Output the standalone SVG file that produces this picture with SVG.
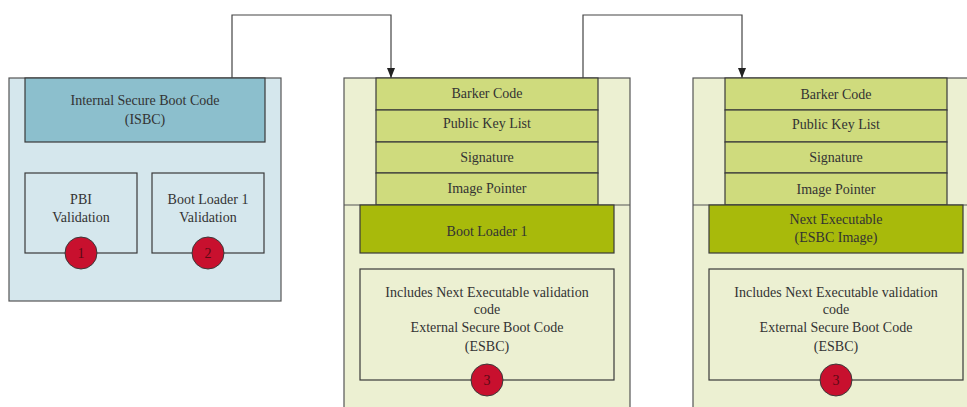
<svg xmlns="http://www.w3.org/2000/svg" width="967" height="407" viewBox="0 0 967 407">
<style>
text{font-family:'Liberation Serif','DejaVu Serif','Noto Serif',serif;font-size:14px;fill:#333;text-anchor:middle}
.box{stroke:#3a3a3a;stroke-width:1.2}
.outerL{fill:#d5e7ed;stroke:#555;stroke-width:1.2}
.outerG{fill:#ecf0d2;stroke:#555;stroke-width:1.2}
.isbc{fill:#8cbfcd}
.row{fill:#cfdb7d}
.bl{fill:#a8ba0b}
.plainL{fill:#d5e7ed}
.plainG{fill:#ecf0d2}
.badge{fill:#c8102e;stroke:#3a3a3a;stroke-width:1}
.num{fill:#5a0a14;font-size:14px}
.conn{fill:none;stroke:#444;stroke-width:1.2}
</style>
<defs>
<marker id="arr" viewBox="0 0 10 10" refX="10" refY="5" markerWidth="10" markerHeight="10" markerUnits="userSpaceOnUse" orient="auto">
<path d="M0,1 L10,5 L0,9 Z" fill="#222"/>
</marker>
</defs>
<rect width="967" height="407" fill="#fff"/>

<g id="isbc-node">
<rect class="outerL" x="9" y="78" width="272" height="223"/>
<rect class="box isbc" x="25" y="78" width="240" height="64"/>
<text x="145" y="105">Internal Secure Boot Code</text>
<text x="145" y="124">(ISBC)</text>
</g>
<g id="pbi-validation">
<rect class="box plainL" x="25" y="173" width="112" height="80"/>
<text x="81" y="204">PBI</text>
<text x="81" y="222">Validation</text>
<circle class="badge" cx="81" cy="253" r="16"/>
<text class="num" x="81" y="258">1</text>
</g>
<g id="bl1-validation">
<rect class="box plainL" x="152" y="173" width="112" height="80"/>
<text x="208" y="204">Boot Loader 1</text>
<text x="208" y="222">Validation</text>
<circle class="badge" cx="208" cy="253" r="16"/>
<text class="num" x="208" y="258">2</text>
</g>

<g id="bootloader-image">
<rect class="outerG" x="344" y="78" width="286" height="340"/>
<rect class="box row" x="376" y="78" width="222" height="32"/>
<text x="487" y="98">Barker Code</text>
<rect class="box row" x="376" y="110" width="222" height="32"/>
<text x="487" y="128">Public Key List</text>
<rect class="box row" x="376" y="142" width="222" height="31"/>
<text x="487" y="162">Signature</text>
<rect class="box row" x="376" y="173" width="222" height="32"/>
<text x="487" y="193">Image Pointer</text>
<line x1="344" y1="205" x2="630" y2="205" stroke="#555" stroke-width="1.2"/>
<rect class="box bl" x="360" y="205" width="254" height="48"/>
<text x="487" y="236">Boot Loader 1</text>
<rect class="box plainG" x="360" y="269" width="254" height="111"/>
<text x="487" y="297">Includes Next Executable validation</text>
<text x="487" y="314">code</text>
<text x="487" y="332">External Secure Boot Code</text>
<text x="487" y="351">(ESBC)</text>
<circle class="badge" cx="487" cy="380" r="16"/>
<text class="num" x="487" y="385">3</text>
</g>

<g id="esbc-image">
<rect class="outerG" x="693" y="78" width="286" height="340"/>
<rect class="box row" x="725" y="78" width="222" height="32"/>
<text x="836" y="99">Barker Code</text>
<rect class="box row" x="725" y="110" width="222" height="32"/>
<text x="836" y="129">Public Key List</text>
<rect class="box row" x="725" y="142" width="222" height="31"/>
<text x="836" y="162">Signature</text>
<rect class="box row" x="725" y="173" width="222" height="32"/>
<text x="836" y="194">Image Pointer</text>
<line x1="693" y1="205" x2="979" y2="205" stroke="#555" stroke-width="1.2"/>
<rect class="box bl" x="709" y="205" width="254" height="48"/>
<text x="836" y="224">Next Executable</text>
<text x="836" y="242">(ESBC Image)</text>
<rect class="box plainG" x="709" y="269" width="254" height="111"/>
<text x="836" y="297">Includes Next Executable validation</text>
<text x="836" y="314">code</text>
<text x="836" y="332">External Secure Boot Code</text>
<text x="836" y="351">(ESBC)</text>
<circle class="badge" cx="836" cy="380" r="16"/>
<text class="num" x="836" y="385">3</text>
</g>

<g id="connectors">
<polyline class="conn" points="232,78 232,15 391,15 391,78" marker-end="url(#arr)"/>
<polyline class="conn" points="583,78 583,15 742,15 742,78" marker-end="url(#arr)"/>
</g>
</svg>
